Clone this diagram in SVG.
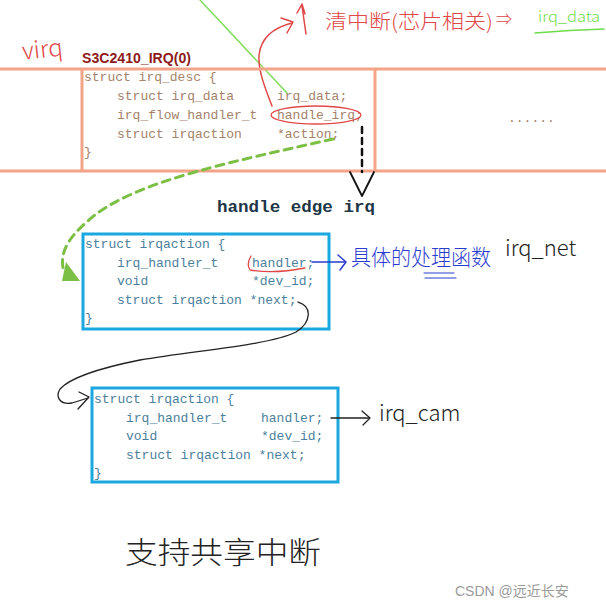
<svg xmlns="http://www.w3.org/2000/svg" width="606" height="608" viewBox="0 0 606 608">
<defs>
<style>
.code{font-family:"Liberation Mono","DejaVu Sans Mono",monospace;font-size:13px}
.brown{fill:#a5826a}
.blue{fill:#4d7f9c}
.pink{stroke:#f3a488;stroke-width:3;fill:none}
.cyan{stroke:#1ba8e0;stroke-width:3;fill:none}
.hand{font-family:"Noto Sans CJK SC","Noto Sans",sans-serif;font-weight:300}
.ink{fill:none;stroke-linecap:round;stroke-linejoin:round}
</style>
</defs>
<rect width="606" height="608" fill="#ffffff"/>

<g id="annotations-top">
  <path class="ink" d="M200,0 L287,93" stroke="#7fdc5a" stroke-width="1.5"/>
  <path class="ink" d="M272,106 C266,90 258,72 259,55 C261,38 272,28 292,23" stroke="#e04848" stroke-width="1.5"/>
  <path class="ink" d="M281,18 L293,22 L287,33" stroke="#e04848" stroke-width="1.5"/>
  <path class="ink" d="M297,13 L302,4 L305,14 M302,6 L306,34" stroke="#e04848" stroke-width="1.5"/>
  <text class="hand" x="325" y="29" font-size="20" fill="#e04848" textLength="168" lengthAdjust="spacingAndGlyphs">清中断(芯片相关)</text>
  <text class="hand" x="496" y="25" font-size="16" fill="#e04848">⇒</text>
  <text class="hand" x="538" y="22" font-size="15" fill="#6fdc4a" textLength="62" lengthAdjust="spacingAndGlyphs">irq_data</text>
  <path class="ink" d="M535,33 Q570,30 604,29" stroke="#6fdc4a" stroke-width="1.5"/>
  <text class="hand" x="22" y="58" font-size="24" fill="#e04848" transform="rotate(-6 40 50)">virq</text>
</g>

<g id="irq_desc">
  <path class="pink" d="M0,69 H606 M0,171 H606 M82,69 V171 M375,69 V171"/>
  <text x="82" y="63" font-family="Liberation Sans,Arial,sans-serif" font-weight="bold" font-size="14" fill="#8e1b1b" textLength="109" lengthAdjust="spacingAndGlyphs">S3C2410_IRQ(0)</text>
  <text class="code brown" x="84" y="81">struct irq_desc {</text>
  <text class="code brown" x="117" y="100">struct irq_data</text>
  <text class="code brown" x="277" y="100">irq_data;</text>
  <text class="code brown" x="117" y="119">irq_flow_handler_t</text>
  <text class="code brown" x="277" y="119">handle_irq;</text>
  <text class="code brown" x="117" y="138">struct irqaction</text>
  <text class="code brown" x="277" y="138">*action;</text>
  <text class="code brown" x="84" y="156">}</text>
  <text class="code brown" x="508" y="122">......</text>
  <ellipse cx="316" cy="115" rx="45" ry="9" fill="none" stroke="#e04848" stroke-width="1.3"/>
</g>

<g id="label-handle-edge">
  <text x="217" y="212" font-family="Liberation Mono,monospace" font-weight="bold" font-size="17" fill="#1e3646" textLength="158" lengthAdjust="spacingAndGlyphs">handle edge irq</text>
</g>

<g id="irqaction1">
  <rect class="cyan" x="83" y="234" width="246" height="95"/>
  <text class="code blue" x="85" y="248">struct irqaction {</text>
  <text class="code blue" x="117" y="267">irq_handler_t</text>
  <text class="code blue" x="252" y="267">handler;</text>
  <text class="code blue" x="117" y="285">void</text>
  <text class="code blue" x="252" y="285">*dev_id;</text>
  <text class="code blue" x="117" y="304">struct irqaction *next;</text>
  <text class="code blue" x="85" y="322">}</text>
  <path class="ink" d="M251,256 Q246,264 250,270 Q275,274 305,268" stroke="#e04848" stroke-width="1.3"/>
</g>

<g id="irqaction2">
  <rect class="cyan" x="92" y="388" width="246" height="94"/>
  <text class="code blue" x="94" y="403">struct irqaction {</text>
  <text class="code blue" x="126" y="422">irq_handler_t</text>
  <text class="code blue" x="261" y="422">handler;</text>
  <text class="code blue" x="126" y="440">void</text>
  <text class="code blue" x="261" y="440">*dev_id;</text>
  <text class="code blue" x="126" y="459">struct irqaction *next;</text>
  <text class="code blue" x="94" y="477">}</text>
</g>

<g id="connectors">
  <path class="ink" d="M362,127 V172" stroke="#111" stroke-width="2.5" stroke-dasharray="6,5"/>
  <path class="ink" d="M350,172 L362,196 L374,172" stroke="#111" stroke-width="1.8"/>
  <path class="ink" d="M333,139 C240,160 140,180 95,215 C70,235 60,250 63,268" stroke="#7bbf45" stroke-width="3" stroke-dasharray="8,6"/>
  <polygon points="66,262 80,281 62,281" fill="#7bbf45"/>
  <path class="ink" d="M298,302 C312,306 312,322 296,332 C270,345 200,350 140,360 C100,368 70,378 60,389 C55,397 60,405 72,403 L88,398" stroke="#222" stroke-width="1.3"/>
  <path class="ink" d="M79,392 L89,397 L78,409" stroke="#222" stroke-width="1.3"/>
  <path class="ink" d="M312,262 H344 M338,255 L346,262 L340,270" stroke="#2b3bd0" stroke-width="1.5"/>
  <path class="ink" d="M331,418 H368 M362,411 L370,418 L363,425" stroke="#222" stroke-width="1.3"/>
</g>

<g id="annotations-bottom">
  <text class="hand" x="351" y="265" font-size="22" fill="#2b3bd0" textLength="140" lengthAdjust="spacingAndGlyphs">具体的处理函数</text>
  <path class="ink" d="M424,273 H454 M425,278 H456" stroke="#2b3bd0" stroke-width="1.2"/>
  <text class="hand" x="505" y="256" font-size="22" fill="#222">irq_net</text>
  <text class="hand" x="379" y="421" font-size="22" fill="#222">irq_cam</text>
  <text class="hand" x="125" y="563" font-size="30" fill="#222" textLength="196" lengthAdjust="spacingAndGlyphs">支持共享中断</text>
  <text x="455" y="596" font-family="Liberation Sans,Noto Sans CJK SC,sans-serif" font-size="14" fill="#9a9a9a">CSDN @远近长安</text>
</g>
</svg>
